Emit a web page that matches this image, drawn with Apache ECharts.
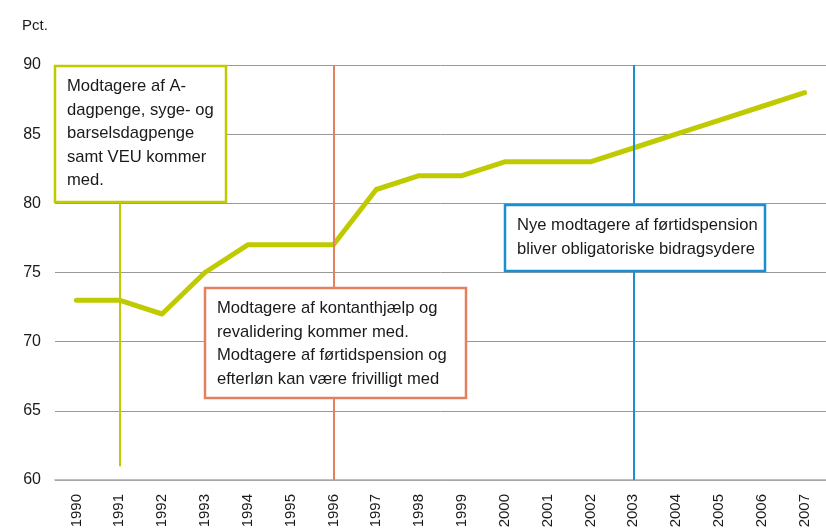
<!DOCTYPE html>
<html>
<head>
<meta charset="utf-8">
<script src="https://cdn.jsdelivr.net/npm/echarts@6/dist/echarts.min.js"></script>
<style>
  html, body { margin: 0; padding: 0; background: #fff; }
  #chart { width: 826px; height: 531px; }
</style>
</head>
<body>
<div id="chart"></div>
<script>
// data
const years = ['1990', '1991', '1992', '1993', '1994', '1995', '1996', '1997', '1998',
  '1999', '2000', '2001', '2002', '2003', '2004', '2005', '2006', '2007']
const share = [73, 73, 72, 75, 77, 77, 77, 81, 82, 82, 83, 83, 83, 84, 85, 86, 87, 88]

// vertical markers: [year, from, to]
const greenMark = ['1991', 61, 80]
const orangeMark = ['1996', 60, 90]
const blueMark = ['2003', 60, 90]

const noteGreen = ['Modtagere af A-', 'dagpenge, syge- og', 'barselsdagpenge', 'samt VEU kommer', 'med.']
const noteOrange = ['Modtagere af kontanthjælp og', 'revalidering kommer med.',
  'Modtagere af førtidspension og', 'efterløn kan være frivilligt med']
const noteBlue = ['Nye modtagere af førtidspension', 'bliver obligatoriske bidragsydere']

const GREEN = '#bfcb00'
const ORANGE = '#e3805f'
const BLUE = '#1a8fd4'
const FONT = '"Liberation Sans", Arial, sans-serif'

function markSeg(m, color) {
  return [
    {coord: [m[0], m[1]], lineStyle: {color: color, width: 2, type: 'solid'}},
    {coord: [m[0], m[2]]}
  ]
}

// tekstboks oven på grafen
function noteBox(x, y, w, h, color, lines) {
  return [
    {
      type: 'rect',
      z: 100,
      shape: {x: x, y: y, width: w, height: h},
      style: {fill: '#fff', stroke: color, lineWidth: 2.5}
    },
    {
      type: 'text',
      z: 101,
      x: x + 12,
      y: y + 9,
      style: {
        text: lines.join('\n'),
        font: '16.6px ' + FONT,
        lineHeight: 23.5,
        fill: '#1a1a1a'
      }
    }
  ]
}

const chart = echarts.init(document.getElementById('chart'))

chart.setOption({
  animation: false,
  grid: {
    left: 55,
    right: 0,
    top: 65,
    bottom: 51
  },
  xAxis: {
    type: 'category',
    data: years,
    boundaryGap: true,
    axisLine: {lineStyle: {color: '#aaa', width: 1.5}},
    axisTick: {show: false},
    axisLabel: {
      rotate: 90,
      interval: 0,
      margin: 14,
      fontSize: 15,
      fontFamily: FONT,
      color: '#1a1a1a'
    }
  },
  yAxis: {
    type: 'value',
    name: 'Pct.',
    nameLocation: 'end',
    nameGap: 32,
    nameTextStyle: {
      fontSize: 15,
      fontFamily: FONT,
      color: '#1a1a1a',
      align: 'left',
      padding: [0, 0, 0, -33]
    },
    min: 60,
    max: 90,
    interval: 5,
    axisLine: {show: false},
    axisTick: {show: false},
    splitLine: {lineStyle: {color: '#999', width: 1}},
    axisLabel: {
      margin: 14,
      fontSize: 16,
      fontFamily: FONT,
      color: '#1a1a1a'
    }
  },
  series: [{
    type: 'line',
    data: share,
    showSymbol: false,
    symbol: 'none',
    lineStyle: {color: GREEN, width: 5, cap: 'round', join: 'round'},
    markLine: {
      silent: true,
      symbol: 'none',
      label: {show: false},
      data: [
        markSeg(greenMark, GREEN),
        markSeg(orangeMark, ORANGE),
        markSeg(blueMark, BLUE)
      ]
    },
    z: 3
  }],
  graphic: [].concat(
    noteBox(55, 66, 171, 136, GREEN, noteGreen),
    noteBox(205, 288, 261, 110, ORANGE, noteOrange),
    noteBox(505, 205, 260, 66, BLUE, noteBlue)
  )
})
</script>
</body>
</html>
